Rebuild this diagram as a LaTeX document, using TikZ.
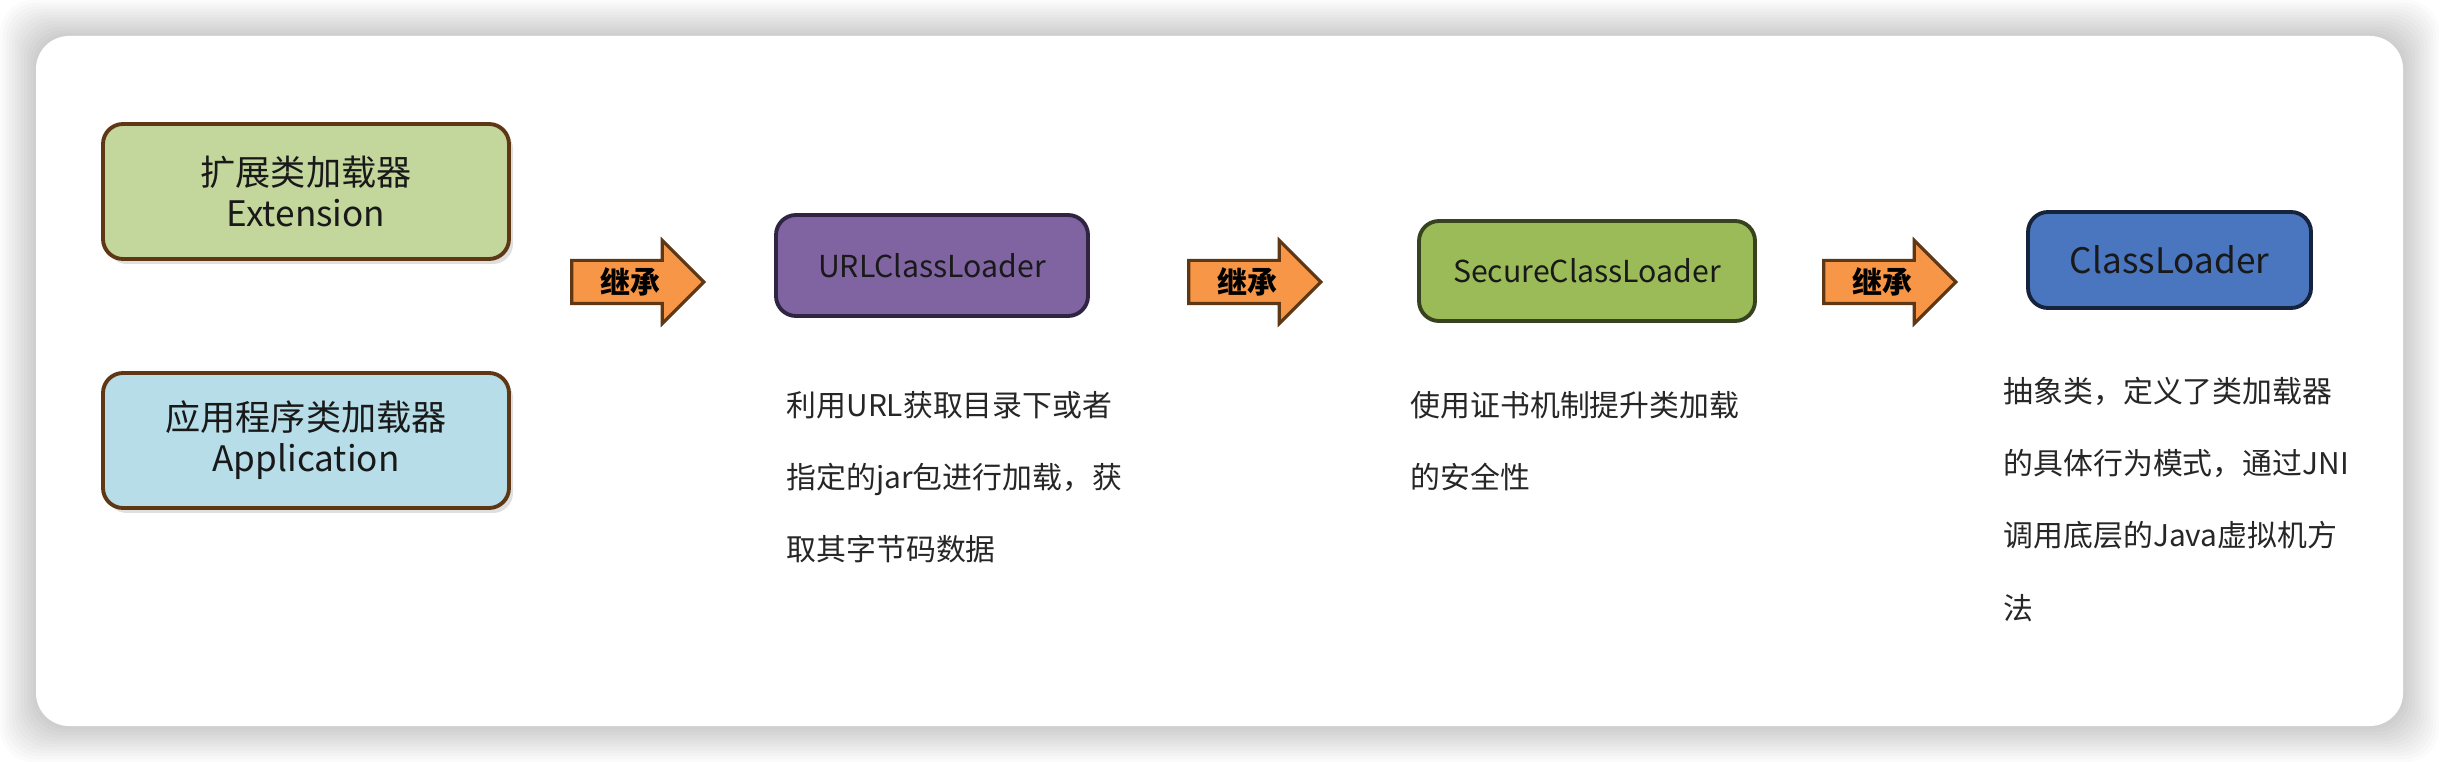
\documentclass[tikz,border=0pt]{standalone}
\usepackage{fontspec}
\setmainfont{Noto Sans CJK SC}
\usepackage{tikz}
\usetikzlibrary{shapes.arrows,shadows}

\definecolor{brownline}{HTML}{5E3814}
\definecolor{extgreen}{HTML}{C3D69B}
\definecolor{appblue}{HTML}{B7DDE8}
\definecolor{inhorange}{HTML}{F79646}
\definecolor{urlpurple}{HTML}{8064A2}
\definecolor{urlline}{HTML}{2F2441}
\definecolor{secgreen}{HTML}{9BBB59}
\definecolor{secline}{HTML}{36431E}
\definecolor{clsblue}{HTML}{4A76C0}
\definecolor{clsline}{HTML}{15233D}

\tikzset{
  loader/.style={draw,rounded corners=2mm,line width=1.1pt,align=center,
    font=\fontsize{10pt}{11.7pt}\selectfont,text=black!90},
  smallloader/.style={loader,font=\fontsize{8.6pt}{10pt}\selectfont},
  leftbox/.style={loader,draw=brownline,minimum width=40.6mm,minimum height=13.5mm,
    drop shadow={opacity=0.25,shadow xshift=0.4mm,shadow yshift=-0.5mm}},
  inharrow/.style={shape=single arrow,draw=brownline,fill=inhorange,line width=0.9pt,
    single arrow head extend=2mm,minimum height=13.2mm,inner xsep=0pt,inner ysep=1.1mm,
    text height=1.5mm,text depth=0.3mm,anchor=tip},
  inhlabel/.style={inner sep=0pt,font=\fontsize{8.5pt}{10pt}\selectfont\bfseries},
  note/.style={anchor=west,align=left,inner sep=0pt,text=black!85,
    font=\fontsize{8.5pt}{20.5pt}\selectfont}
}

\begin{document}
\begin{tikzpicture}[x=0.1mm,y=-0.1mm]
\useasboundingbox (0,0) rectangle (2440,762);
% card with soft shadow
\fill[white] (0,0) rectangle (2440,762);
\foreach \s in {1,...,12}
  \fill[black,opacity=0.014,rounded corners=3.3mm] (36-3*\s,36-3*\s) rectangle (2403+3*\s,726+3*\s);
\fill[white,rounded corners=3.3mm] (36,36) rectangle (2403,726);

% class loaders
\node[leftbox,fill=extgreen] (ext) at (306,191.5) {扩展类加载器\\Extension};
\node[leftbox,fill=appblue] (app) at (306,440.5) {应用程序类加载器\\Application};
\node[smallloader,draw=urlline,fill=urlpurple,minimum width=31.2mm,minimum height=10.1mm] (url) at (932,265.5) {URLClassLoader};
\node[smallloader,draw=secline,fill=secgreen,minimum width=33.6mm,minimum height=10mm] (sec) at (1587,271) {SecureClassLoader};
\node[loader,draw=clsline,fill=clsblue,minimum width=28.3mm,minimum height=9.6mm] (cls) at (2169.5,260) {ClassLoader};

% inheritance arrows
\node[inharrow] (inh1) at (706,282) {};
\node[inhlabel] (inh1txt) at (630,282) {继承};
\node[inharrow] (inh2) at (1323,282) {};
\node[inhlabel] (inh2txt) at (1247,282) {继承};
\node[inharrow] (inh3) at (1958,282) {};
\node[inhlabel] (inh3txt) at (1882,282) {继承};

% descriptions
\node[note] (urlnote) at (786,477) {利用URL获取目录下或者\\指定的jar包进行加载，获\\取其字节码数据};
\node[note] (secnote) at (1410,441.5) {使用证书机制提升类加载\\的安全性};
\node[note] (clsnote) at (2003,499.5) {抽象类，定义了类加载器\\的具体行为模式，通过JNI\\调用底层的Java虚拟机方\\法};
\end{tikzpicture}
\end{document}
